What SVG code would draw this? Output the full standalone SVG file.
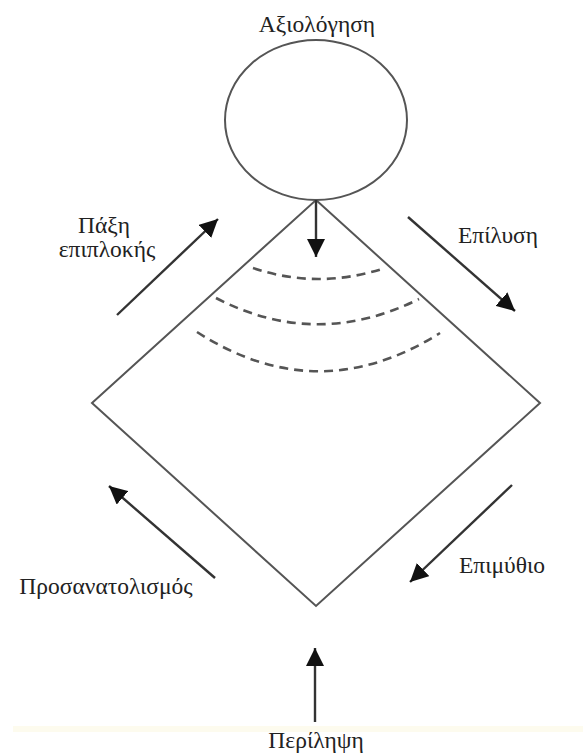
<svg xmlns="http://www.w3.org/2000/svg" width="583" height="756" viewBox="0 0 583 756">
<style>
.lbl{font-family:"Liberation Serif","DejaVu Serif",serif;font-size:23.5px;fill:#222}
.shape{fill:none;stroke:#555;stroke-width:2}
.arr{fill:none;stroke:#333;stroke-width:2.4;marker-end:url(#ah)}
.dash{fill:none;stroke:#555;stroke-width:2.6;stroke-dasharray:9 6}
</style>
<defs>
<marker id="ah" markerUnits="userSpaceOnUse" markerWidth="20" markerHeight="18" refX="18" refY="9" orient="auto">
<path d="M0,0 L18,9 L0,18 Z" fill="#111"/>
</marker>
</defs>
<rect x="0" y="0" width="583" height="756" fill="#fff"/>
<rect x="13" y="726" width="570" height="6" fill="#fdfbee"/>
<g id="evaluation">
<ellipse class="shape" cx="316" cy="120" rx="91" ry="80" stroke-width="2.5"/>
<text class="lbl" x="317" y="32" text-anchor="middle">Αξιολόγηση</text>
</g>
<g id="diamond">
<path class="shape" d="M316,200 L540,403 L316,606 L92,403 Z"/>
<path class="dash" d="M253,268 Q318,290 385,268"/>
<path class="dash" d="M216,298 Q316,350 419,299"/>
<path class="dash" d="M197,332 Q318,410 440,333"/>
</g>
<g id="complication">
<text class="lbl" x="104" y="233" text-anchor="middle">Πάξη</text>
<text class="lbl" x="107" y="257" text-anchor="middle">επιπλοκής</text>
</g>
<g id="resolution">
<text class="lbl" x="498" y="243" text-anchor="middle">Επίλυση</text>
</g>
<g id="orientation">
<text class="lbl" x="106" y="594" text-anchor="middle">Προσανατολισμός</text>
</g>
<g id="moral">
<text class="lbl" x="502" y="573" text-anchor="middle">Επιμύθιο</text>
</g>
<g id="summary">
<text class="lbl" x="316" y="748" text-anchor="middle">Περίληψη</text>
</g>
<g id="connectors">
<line class="arr" x1="316" y1="200" x2="316" y2="257"/>
<line class="arr" x1="117" y1="315" x2="218" y2="219"/>
<line class="arr" x1="408" y1="217" x2="515" y2="311"/>
<line class="arr" x1="215" y1="578" x2="109" y2="486"/>
<line class="arr" x1="512" y1="485" x2="410" y2="582"/>
<line class="arr" x1="315" y1="722" x2="315" y2="648"/>
</g>
</svg>
